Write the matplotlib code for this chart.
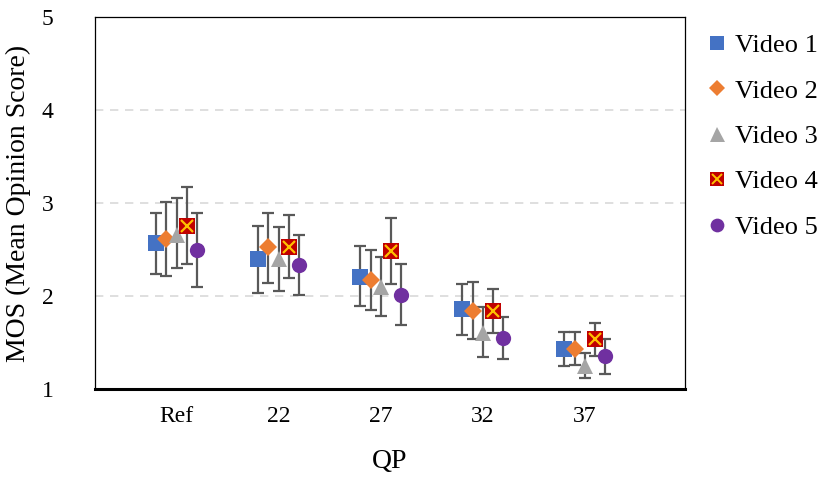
import matplotlib.pyplot as plt
import numpy as np
from matplotlib.lines import Line2D
from matplotlib.legend_handler import HandlerTuple

plt.rcParams['font.family'] = ['Liberation Serif', 'DejaVu Serif']

qp_labels = ['Ref', '22', '27', '32', '37']
videos = ['Video 1', 'Video 2', 'Video 3', 'Video 4', 'Video 5']

# mean MOS per video, per QP
mos = {
    'Video 1': [2.57, 2.40, 2.20, 1.86, 1.43],
    'Video 2': [2.61, 2.53, 2.17, 1.84, 1.43],
    'Video 3': [2.66, 2.40, 2.10, 1.60, 1.25],
    'Video 4': [2.75, 2.53, 2.48, 1.84, 1.54],
    'Video 5': [2.50, 2.33, 2.01, 1.55, 1.35],
}
# error bar ends (upper, lower)
upper = {
    'Video 1': [2.89, 2.75, 2.54, 2.13, 1.61],
    'Video 2': [3.01, 2.89, 2.49, 2.15, 1.61],
    'Video 3': [3.05, 2.74, 2.42, 1.88, 1.39],
    'Video 4': [3.17, 2.87, 2.84, 2.08, 1.71],
    'Video 5': [2.89, 2.66, 2.34, 1.77, 1.54],
}
lower = {
    'Video 1': [2.24, 2.03, 1.89, 1.58, 1.25],
    'Video 2': [2.22, 2.14, 1.85, 1.54, 1.26],
    'Video 3': [2.30, 2.05, 1.78, 1.34, 1.12],
    'Video 4': [2.34, 2.19, 2.13, 1.60, 1.35],
    'Video 5': [2.10, 2.01, 1.69, 1.32, 1.16],
}

styles = {
    'Video 1': dict(marker='s', color='#4472C4', ms=11),
    'Video 2': dict(marker='D', color='#ED7D31', ms=9),
    'Video 3': dict(marker='^', color='#A5A5A5', ms=12),
    'Video 4': dict(marker='s', color='#C00000', ms=11),
    'Video 5': dict(marker='o', color='#7030A0', ms=11),
}
offsets = [-0.2, -0.1, 0.0, 0.1, 0.2]

fig = plt.figure(figsize=(8.3, 4.86), dpi=100)
ax = fig.add_axes([0.1145, 0.1996, 0.7105, 0.7654])

x = np.arange(1, len(qp_labels) + 1)
handles = []
for v, off in zip(videos, offsets):
    m = np.array(mos[v])
    yerr = [m - np.array(lower[v]), np.array(upper[v]) - m]
    st = styles[v]
    ax.errorbar(x + off, m, yerr=yerr, fmt='none', ecolor='#595959',
                elinewidth=1.6, capsize=4.5, capthick=1.6, zorder=2)
    ax.plot(x + off, m, linestyle='none', marker=st['marker'], color=st['color'],
            markersize=st['ms'], markeredgewidth=0, zorder=3)
    h = Line2D([], [], linestyle='none', marker=st['marker'], color=st['color'],
               markersize=st['ms'] * 0.9, markeredgewidth=0)
    if v == 'Video 4':
        ax.plot(x + off, m, linestyle='none', marker='x', color='#FFC000',
                markersize=st['ms'] * 0.8, markeredgewidth=1.6, zorder=4)
        hx = Line2D([], [], linestyle='none', marker='x', color='#FFC000',
                    markersize=st['ms'] * 0.7, markeredgewidth=1.4)
        h = (h, hx)
    handles.append(h)

ax.set_xlim(0.2, 5.98)
ax.set_ylim(1, 5)
ax.set_xticks(x)
ax.set_xticklabels(qp_labels)
ax.set_yticks([1, 2, 3, 4, 5])
ax.tick_params(axis='both', length=0, labelsize=17)
ax.tick_params(axis='x', pad=12)
ax.tick_params(axis='y', pad=30)
for yv in [2, 3, 4]:
    ax.axhline(yv, color='#D9D9D9', linestyle=(0, (5, 4)), linewidth=1.2, zorder=1)

for s in ['top', 'left', 'right']:
    ax.spines[s].set_linewidth(0.9)
ax.spines['bottom'].set_linewidth(2.2)

ax.set_xlabel('QP', fontsize=20)
ax.set_ylabel('MOS (Mean Opinion Score)', fontsize=20)
ax.xaxis.set_label_coords(0.5, -0.16)
ax.yaxis.set_label_coords(-0.108, 0.5)

fig.legend(handles, videos, loc='upper left', bbox_to_anchor=(0.84, 0.952),
           frameon=False, fontsize=19, handlelength=0.7, handletextpad=0.35,
           labelspacing=0.83, borderaxespad=0,
           handler_map={tuple: HandlerTuple(ndivide=1, pad=0)})

fig.savefig('out.png', dpi=100)
